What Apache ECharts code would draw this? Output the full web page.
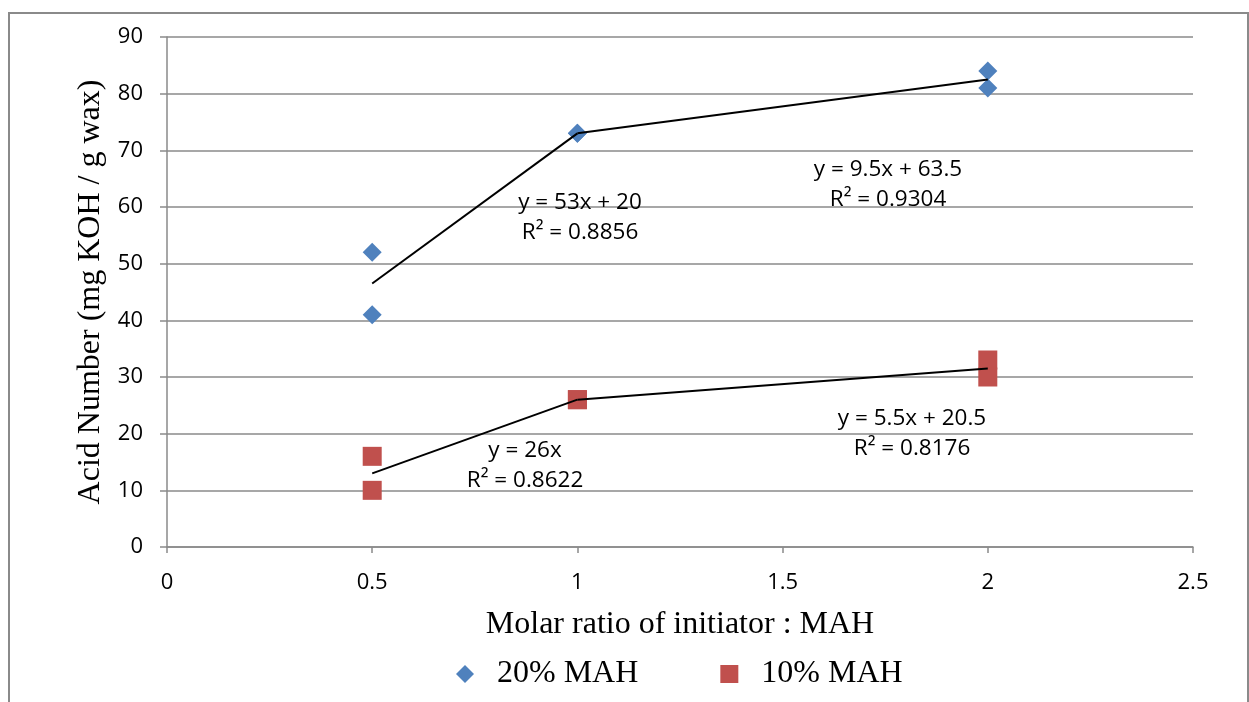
<!DOCTYPE html>
<html>
<head>
<meta charset="utf-8">
<script src="https://cdn.jsdelivr.net/npm/echarts@6/dist/echarts.min.js"></script>
<style>
  html, body { margin: 0; padding: 0; background: #fff; }
  #chart { width: 1249px; height: 702px; }
</style>
</head>
<body>
<div id="chart"></div>
<script>
// data
const ratio = [0.5, 0.5, 1, 1, 2, 2];
const mah20 = [52, 41, 73, 73, 84, 81];
const mah10 = [16, 10, 26, 26, 33, 30];

// trendline fits (Excel segments between neighbouring groups)
const fits20 = [
  { slope: 53, intercept: 20, from: 0.5, to: 1, eq: 'y = 53x + 20', r2: 'R² = 0.8856' },
  { slope: 9.5, intercept: 63.5, from: 1, to: 2, eq: 'y = 9.5x + 63.5', r2: 'R² = 0.9304' }
];
const fits10 = [
  { slope: 26, intercept: 0, from: 0.5, to: 1, eq: 'y = 26x', r2: 'R² = 0.8622' },
  { slope: 5.5, intercept: 20.5, from: 1, to: 2, eq: 'y = 5.5x + 20.5', r2: 'R² = 0.8176' }
];

// where the equation boxes sit (pixel centres of the two lines)
const eqPos = [[580, 218], [888, 185], [525, 466], [912, 434]];

const pts = (xs, ys) => xs.map((x, i) => [x, ys[i]]);
const fitLine = f => [[f.from, f.slope * f.from + f.intercept], [f.to, f.slope * f.to + f.intercept]];

const lineSeries = [...fits20, ...fits10].map(f => ({
  type: 'line',
  data: fitLine(f),
  symbol: 'none',
  silent: true,
  lineStyle: { color: '#000', width: 2 },
  z: 3
}));

const eqTexts = [...fits20, ...fits10].map((f, i) => ({
  type: 'text',
  x: eqPos[i][0], y: eqPos[i][1],
  style: {
    text: f.eq + '\n' + f.r2,
    fontFamily: '"Open Sans", sans-serif',
    fontSize: 22.5,
    lineHeight: 30,
    fill: '#000',
    align: 'center',
    verticalAlign: 'middle'
  },
  z: 10
}));

const axisGray = '#8a8a8a';
const tickFont = { fontFamily: '"Open Sans", sans-serif', fontSize: 22, color: '#000' };
const serif = '"Liberation Serif", serif';

const option = {
  animation: false,
  backgroundColor: '#fff',
  grid: { left: 167, right: 56, top: 37, bottom: 155 },
  xAxis: {
    type: 'value', min: 0, max: 2.5, interval: 0.5,
    name: 'Molar ratio of initiator : MAH',
    nameLocation: 'middle', nameGap: 62,
    nameTextStyle: { fontFamily: serif, fontSize: 32, color: '#000' },
    axisLine: { show: true, lineStyle: { color: axisGray, width: 1.5 } },
    axisTick: { show: true, length: 6, lineStyle: { color: axisGray, width: 1.5 } },
    axisLabel: Object.assign({ margin: 25 }, tickFont),
    splitLine: { show: false }
  },
  yAxis: {
    type: 'value', min: 0, max: 90, interval: 10,
    name: 'Acid Number (mg KOH / g wax)',
    nameLocation: 'middle', nameGap: 56, nameRotate: 90,
    nameTextStyle: { fontFamily: serif, fontSize: 32, color: '#000' },
    axisLine: { show: true, lineStyle: { color: axisGray, width: 1.5 } },
    axisTick: { show: true, length: 7, lineStyle: { color: axisGray, width: 1.5 } },
    axisLabel: Object.assign({ margin: 24 }, tickFont),
    splitLine: { show: true, lineStyle: { color: axisGray, width: 1.5 } }
  },
  legend: {
    top: 653, left: 451,
    itemGap: 82, itemWidth: 18, itemHeight: 18,
    textStyle: { fontFamily: serif, fontSize: 32, color: '#000', padding: [0, 0, 0, 18] },
    data: [
      { name: '20% MAH', icon: 'diamond' },
      { name: '10% MAH', icon: 'rect' }
    ]
  },
  graphic: [
    {
      type: 'rect',
      shape: { x: 9, y: 13, width: 1239, height: 720 },
      style: { fill: 'none', stroke: '#8a8a8a', lineWidth: 2 },
      silent: true, z: -1
    },
    ...eqTexts
  ],
  series: [
    {
      name: '20% MAH', type: 'scatter',
      data: pts(ratio, mah20),
      symbol: 'diamond', symbolSize: 19,
      itemStyle: { color: '#4f81bd', opacity: 1 }, z: 2
    },
    {
      name: '10% MAH', type: 'scatter',
      data: pts(ratio, mah10),
      symbol: 'rect', symbolSize: 19,
      itemStyle: { color: '#c0504d', opacity: 1 }, z: 2
    },
    ...lineSeries
  ]
};

const chart = echarts.init(document.getElementById('chart'));
chart.setOption(option);
</script>
</body>
</html>
